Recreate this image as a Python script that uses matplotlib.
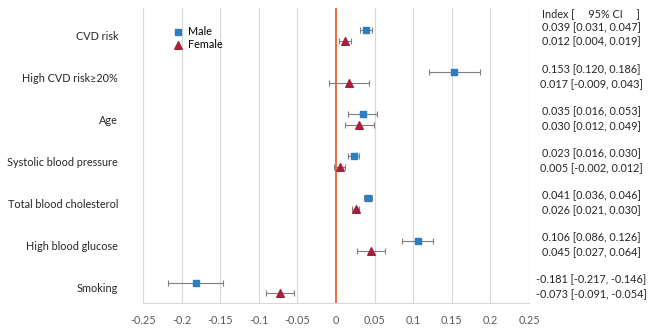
import matplotlib
matplotlib.use("Agg")
import matplotlib.pyplot as plt
import numpy as np

plt.rcParams['font.family'] = ['Lato', 'DejaVu Sans']

categories = ["CVD risk", "High CVD risk\u226520%", "Age", "Systolic blood pressure",
              "Total blood cholesterol", "High blood glucose", "Smoking"]
male_idx = [0.039, 0.153, 0.035, 0.023, 0.041, 0.106, -0.181]
male_lo = [0.031, 0.120, 0.016, 0.016, 0.036, 0.086, -0.217]
male_hi = [0.047, 0.186, 0.053, 0.030, 0.046, 0.126, -0.146]
female_idx = [0.012, 0.017, 0.030, 0.005, 0.026, 0.045, -0.073]
female_lo = [0.004, -0.009, 0.012, -0.002, 0.021, 0.027, -0.091]
female_hi = [0.019, 0.043, 0.049, 0.012, 0.030, 0.064, -0.054]
xticks = [-0.25, -0.2, -0.15, -0.1, -0.05, 0, 0.05, 0.1, 0.15, 0.2, 0.25]
xticklabels = ["-0.25", "-0.2", "-0.15", "-0.1", "-0.05", "0", "0.05", "0.1", "0.15", "0.2", "0.25"]

fig = plt.figure(figsize=(6.5, 3.33), dpi=100)
ax = fig.add_axes([143/650, 1 - 303/333, (529-143)/650, (303-8)/333])

y = np.arange(len(categories))
off = 0.125
ym = y - off
yf = y + off

for xt in xticks:
    if xt != 0:
        ax.axvline(xt, color='#D9D9D9', lw=0.9, zorder=0)
ax.axvline(0, color='#E8531F', lw=1.2, zorder=1)

m_err = [np.array(male_idx) - np.array(male_lo), np.array(male_hi) - np.array(male_idx)]
f_err = [np.array(female_idx) - np.array(female_lo), np.array(female_hi) - np.array(female_idx)]
ax.errorbar(male_idx, ym, xerr=m_err, fmt='none', ecolor='#7F7F7F', elinewidth=0.8, capsize=2, capthick=0.8, zorder=2)
ax.errorbar(female_idx, yf, xerr=f_err, fmt='none', ecolor='#7F7F7F', elinewidth=0.8, capsize=2, capthick=0.8, zorder=2)
ax.scatter(male_idx, ym, marker='s', s=18, color='#2A7FC4', zorder=3, label='Male')
ax.scatter(female_idx, yf, marker='^', s=30, color='#A6203C', zorder=3, label='Female')

ax.set_xlim(-0.25, 0.25)
ax.set_ylim(6.36, -0.655)
ax.set_xticks(xticks)
ax.set_xticklabels(xticklabels, fontsize=7.8, color='#595959')
ax.set_yticks(y)
ax.set_yticklabels(categories, fontsize=7.8, color='#262626')
ax.tick_params(axis='both', length=0)
ax.tick_params(axis='x', pad=9)
ax.tick_params(axis='y', pad=18)
for s in ['top', 'right', 'left']:
    ax.spines[s].set_visible(False)
ax.spines['bottom'].set_color('#D9D9D9')

leg = ax.legend(loc='upper left', bbox_to_anchor=(0.062, 0.955), frameon=False, fontsize=7.8,
                handletextpad=0.3, labelspacing=0.2, borderaxespad=0, handlelength=1.2)

tx = (591 - 143) / (529 - 143) * 0.5 - 0.25
fs = 7.8
ax.text(tx, -0.57 + 0.05, "Index [     95% CI     ]", ha='center', va='center', fontsize=fs, color='#262626', clip_on=False)
for i in range(len(categories)):
    ax.text(tx, y[i] - 0.02 - 0.175, f"{male_idx[i]:.3f} [{male_lo[i]:.3f}, {male_hi[i]:.3f}]",
            ha='center', va='center', fontsize=fs, color='#262626', clip_on=False)
    ax.text(tx, y[i] - 0.02 + 0.175, f"{female_idx[i]:.3f} [{female_lo[i]:.3f}, {female_hi[i]:.3f}]",
            ha='center', va='center', fontsize=fs, color='#262626', clip_on=False)

fig.savefig("out.png", dpi=100)
